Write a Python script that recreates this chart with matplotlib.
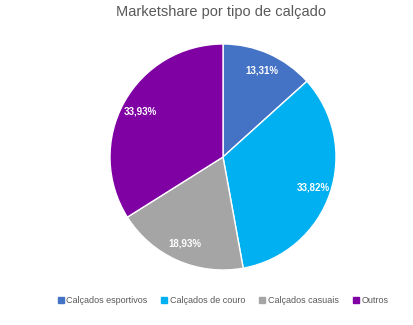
import matplotlib
matplotlib.use("Agg")
import matplotlib.pyplot as plt
from matplotlib.lines import Line2D

plt.rcParams['font.family'] = ['Liberation Sans', 'DejaVu Sans']

categorias = ["Calçados esportivos", "Calçados de couro", "Calçados casuais", "Outros"]
share = [13.31, 33.82, 18.93, 33.93]
rotulos = ["13,31%", "33,82%", "18,93%", "33,93%"]
cores = ["#4472C4", "#00B0F0", "#A5A5A5", "#7F00A3"]

fig = plt.figure(figsize=(4.13, 3.25), dpi=100)
cx, cy, r = 223, 325 - 157, 113
ax = fig.add_axes([(cx - r) / 413, (cy - r) / 325, 2 * r / 413, 2 * r / 325])

wedges, _ = ax.pie(share, colors=cores, startangle=90, counterclock=False,
                   wedgeprops=dict(edgecolor="white", linewidth=1))
ax.set_xlim(-1, 1)
ax.set_ylim(-1, 1)
ax.set_aspect('equal')
ax.axis('off')

import numpy as np
ang0 = 90.0
for v, txt in zip(share, rotulos):
    mid = np.deg2rad(ang0 - v * 3.6 / 2)
    ang0 -= v * 3.6
    ax.text(0.84 * np.cos(mid), 0.84 * np.sin(mid), txt, ha="center", va="center",
            color="white", fontsize=7, fontweight="bold")

fig.text(0.535, 0.962, "Marketshare por tipo de calçado", ha="center", va="center",
         fontsize=10.5, color="#595959")

handles = [Line2D([], [], marker="s", linestyle="", markersize=4, color=c) for c in cores]
fig.legend(handles, categorias, loc="center", bbox_to_anchor=(0.54, 0.074), ncol=4,
           frameon=False, fontsize=6.5, handlelength=0.6, handletextpad=0.3,
           columnspacing=1.6, labelcolor="#595959")

fig.savefig("out.png", dpi=100)
